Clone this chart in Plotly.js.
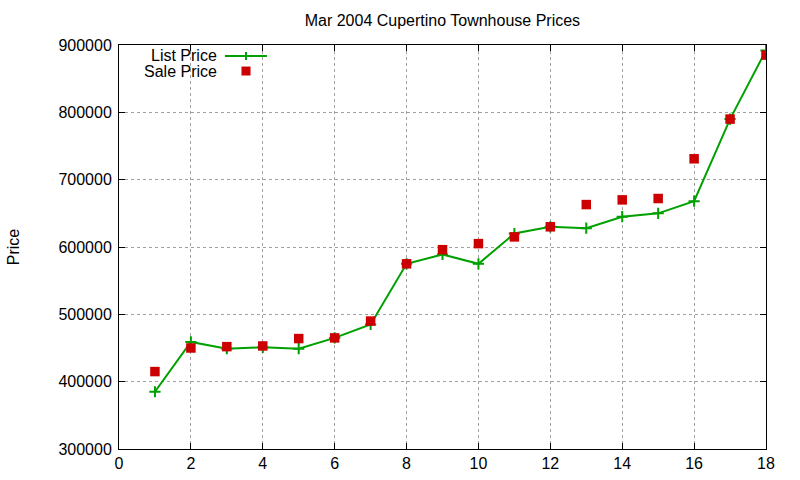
<!DOCTYPE html>
<html>
<head>
<meta charset="utf-8">
<script src="https://cdn.plot.ly/plotly-3.0.1.min.js"></script>
<style>
  html, body { margin: 0; padding: 0; background: #fff; }
  #chart { width: 800px; height: 480px; }
</style>
</head>
<body>
<div id="chart"></div>
<script>
// Mar 2004 Cupertino townhouse prices, list vs sale, by sale index
const saleIndex = [1, 2, 3, 4, 5, 6, 7, 8, 9, 10, 11, 12, 13, 14, 15, 16, 17, 18];
const listPrice = [385000, 459000, 449000, 451000, 449000, 465000, 485000, 575000, 589000, 575000,
                   620000, 630000, 628000, 645000, 650000, 668000, 790000, 892000];
const salePrice = [415000, 450000, 452000, 453000, 464000, 465000, 490000, 575000, 596000, 605000,
                   615000, 630000, 663000, 670000, 672000, 731000, 790000, 885000];
const xTicks = [0, 2, 4, 6, 8, 10, 12, 14, 16, 18];
const yTicks = [300000, 400000, 500000, 600000, 700000, 800000, 900000];

const GREEN = '#00a000', RED = '#cc0000';
const FONT = { family: 'Liberation Sans, Arial, sans-serif', size: 16, color: '#000' };

const traces = [
  {
    type: 'scatter', mode: 'lines+markers', name: 'List Price',
    x: saleIndex, y: listPrice,
    line: { color: GREEN, width: 2 },
    marker: { symbol: 'cross-thin', size: 8, line: { color: GREEN, width: 2 } },
    showlegend: false
  },
  {
    type: 'scatter', mode: 'markers', name: 'Sale Price',
    x: saleIndex, y: salePrice,
    marker: { symbol: 'square', size: 9.5, color: RED },
    showlegend: false
  }
];

const axisCommon = {
  showline: true, linecolor: '#000', linewidth: 1, mirror: 'ticks',
  ticks: 'inside', ticklen: 6, tickcolor: '#000', tickwidth: 1,
  showgrid: true, gridcolor: '#a0a0a0', griddash: 'dot', gridwidth: 1,
  zeroline: false, tickfont: FONT, autorange: false
};

// gnuplot-style key: text on the left, sample on the right
const keyAnnotations = [
  { text: 'List Price', x: 0.1545, y: 0.9728 },
  { text: 'Sale Price', x: 0.1545, y: 0.9356 }
].map(k => ({
  xref: 'paper', yref: 'paper', x: k.x, y: k.y, text: k.text,
  xanchor: 'right', yanchor: 'middle', showarrow: false, font: FONT
}));

const keyShapes = [
  { type: 'line', xref: 'paper', yref: 'paper', x0: 0.1638, x1: 0.2287, y0: 0.9728, y1: 0.9728,
    line: { color: GREEN, width: 2 } },
  { type: 'line', xref: 'paper', yref: 'paper', x0: 0.1963, x1: 0.1963, y0: 0.9629, y1: 0.9827,
    line: { color: GREEN, width: 2 } },
  { type: 'rect', xref: 'paper', yref: 'paper', x0: 0.1893, x1: 0.2033, y0: 0.9245, y1: 0.9467,
    line: { width: 0 }, fillcolor: RED }
];

const layout = {
  width: 800, height: 480,
  paper_bgcolor: '#fff', plot_bgcolor: '#fff',
  margin: { l: 119, r: 34, t: 45, b: 31 },
  font: FONT,
  title: { text: 'Mar 2004 Cupertino Townhouse Prices', font: FONT, x: 0.553, xanchor: 'center', y: 0.958, yanchor: 'middle' },
  xaxis: Object.assign({}, axisCommon, {
    range: [0, 18], tickvals: xTicks, ticktext: xTicks.map(String)
  }),
  yaxis: Object.assign({}, axisCommon, {
    range: [300000, 900000], tickvals: yTicks, ticktext: yTicks.map(String),
    ticklabelstandoff: 3,
    title: { text: 'Price', font: FONT, standoff: 34 }
  }),
  annotations: keyAnnotations,
  shapes: keyShapes,
  showlegend: false
};

Plotly.newPlot('chart', traces, layout, { staticPlot: true, displayModeBar: false });
</script>
</body>
</html>
